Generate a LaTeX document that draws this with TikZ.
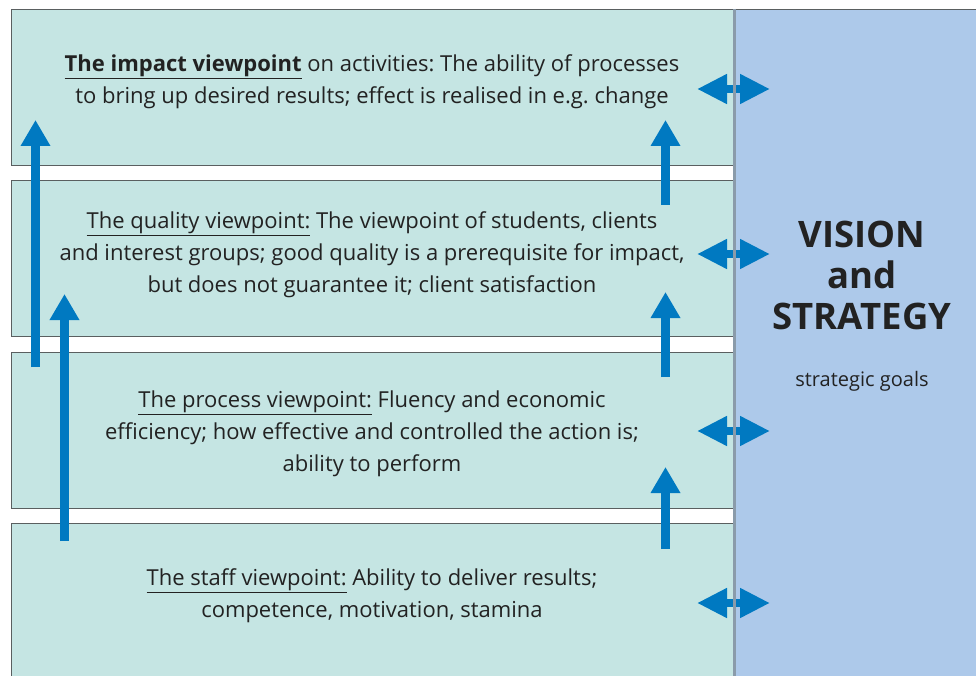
\documentclass[tikz,border=0pt]{standalone}
\usepackage{fontspec}
\setmainfont{Open Sans}
\usetikzlibrary{arrows.meta}
\definecolor{boxfill}{HTML}{C5E5E3}
\definecolor{panel}{HTML}{ADC9EA}
\definecolor{arrowblue}{HTML}{0079C1}
\definecolor{boxline}{HTML}{5A5F60}
\definecolor{sepline}{HTML}{8A9BAA}
\definecolor{txt}{HTML}{222222}
\tikzset{
  viewbox/.style={draw=boxline, line width=1.2pt, fill=boxfill, anchor=north west, minimum width=724pt, inner sep=0pt},
  viewtext/.style={text=txt, align=center, font=\fontsize{22}{32}\selectfont\frenchspacing, inner sep=0pt},
  uparrow/.style={draw=arrowblue, line width=9pt, -{Triangle[length=26pt,width=28pt]}},
  bothway/.style={draw=arrowblue, line width=8pt, {Triangle[length=30pt,width=28pt]}-{Triangle[length=30pt,width=28pt]}},
}
\begin{document}
\begin{tikzpicture}[x=1pt,y=-1pt]
\useasboundingbox (0,0) rectangle (976,676);
\clip (0,0) rectangle (976,676);
% right panel
\node[draw=boxline, line width=1.2pt, fill=panel, anchor=north west, minimum width=260pt, minimum height=700pt, inner sep=0pt] (panel) at (735,9) {};
% boxes
\node[viewbox, minimum height=156pt] (b1) at (11,9) {};
\node[viewbox, minimum height=156pt] (b2) at (11,180) {};
\node[viewbox, minimum height=156pt] (b3) at (11,352) {};
\node[viewbox, minimum height=180pt] (b4) at (11,523) {};
% texts
\node[viewtext] (t1) at (372,82) {\textbf{\underline{The impact viewpoint}} on activities: The ability of processes\\ to bring up desired results; effect is realised in e.g. change};
\node[viewtext] (t2) at (372,255) {\underline{The quality viewpoint:} The viewpoint of students, clients\\ and interest groups; good quality is a prerequisite for impact,\\ but does not guarantee it; client satisfaction};
\node[viewtext] (t3) at (372,434) {\underline{The process viewpoint:} Fluency and economic\\ efficiency; how effective and controlled the action is;\\ ability to perform};
\node[viewtext] (t4) at (372,596) {\underline{The staff viewpoint:} Ability to deliver results;\\ competence, motivation, stamina};
\node[text=txt, align=center, font=\fontsize{36.5}{41}\selectfont\bfseries, inner sep=0pt] (vision) at (862,275) {VISION\\and\\STRATEGY};
\node[text=txt, font=\fontsize{20}{24}\selectfont, inner sep=0pt] (goals) at (862,381) {strategic goals};
% vertical arrows
\coordinate (a1s) at (35.5,367); \coordinate (a1e) at (35.5,120);
\coordinate (a2s) at (64.5,541); \coordinate (a2e) at (64.5,294);
\coordinate (a3s) at (665.5,205); \coordinate (a3e) at (665.5,120);
\coordinate (a4s) at (665.5,377); \coordinate (a4e) at (665.5,292);
\coordinate (a5s) at (665.5,549); \coordinate (a5e) at (665.5,467);
\draw[uparrow] (a1s) -- (a1e);
\draw[uparrow] (a2s) -- (a2e);
\draw[uparrow] (a3s) -- (a3e);
\draw[uparrow] (a4s) -- (a4e);
\draw[uparrow] (a5s) -- (a5e);
% double arrows
\foreach \y/\n in {89/d1,254/d2,431/d3,603/d4}{
  \coordinate (\n l) at (697,\y); \coordinate (\n r) at (770,\y);
  \draw[bothway] (\n l) -- (\n r);
}
% separator line
\coordinate (s1) at (734.5,9); \coordinate (s2) at (734.5,676);
\draw[sepline, line width=2.5pt] (s1) -- (s2);
\end{tikzpicture}
\end{document}
